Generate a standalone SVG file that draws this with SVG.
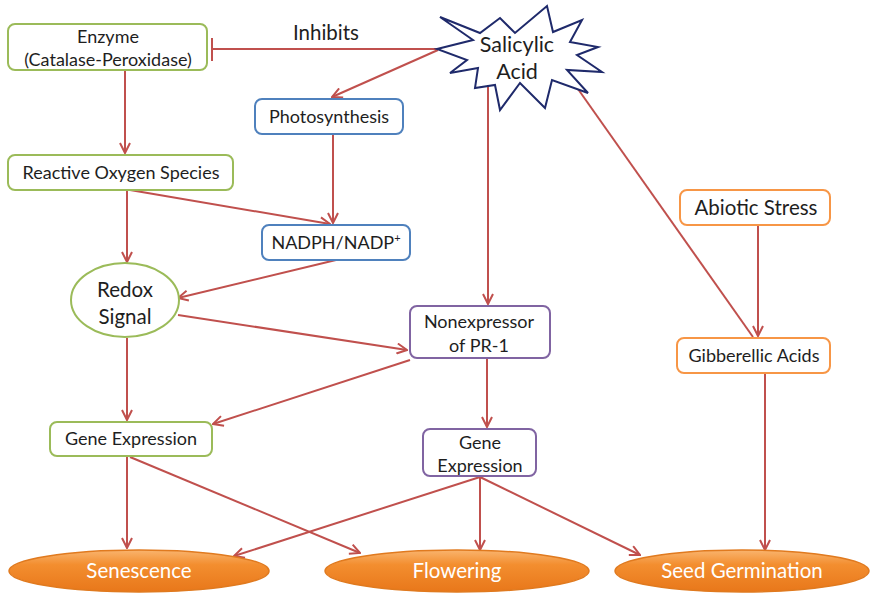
<svg xmlns="http://www.w3.org/2000/svg" width="870" height="593" viewBox="0 0 870 593">
  <defs>
    <style>
      text { font-family: Lato, "Open Sans", "Liberation Sans", sans-serif; fill: #1e1e1e; text-anchor: middle; }
      .lbl { font-size: 18px; }
      .big { font-size: 20.5px; }
      .sa { font-size: 21.5px; }
      .box { fill: #fff; stroke-width: 2; }
      .green { stroke: #9BBB59; }
      .blue { stroke: #4F81BD; }
      .purple { stroke: #8064A2; }
      .orange { stroke: #F79646; }
      .edge { fill: none; stroke: #C0504D; stroke-width: 2; }
      .arr { marker-end: url(#head); }
      .outcome { fill: url(#orangeFill); stroke: #E07A1F; stroke-width: 1.5; }
      .outtxt { fill: #fff; font-size: 20.5px; }
    </style>
    <marker id="head" viewBox="0 0 12 12" refX="11" refY="6" markerWidth="12" markerHeight="12" markerUnits="userSpaceOnUse" orient="auto">
      <path d="M1,1 L11,6 L1,11" fill="none" stroke="#C0504D" stroke-width="2"/>
    </marker>
    <linearGradient id="orangeFill" x1="0" y1="0" x2="0" y2="1">
      <stop offset="0" stop-color="#F9B46E"/>
      <stop offset="0.35" stop-color="#F38E2F"/>
      <stop offset="1" stop-color="#E8771A"/>
    </linearGradient>
  </defs>

  <!-- connectors -->
  <g id="connectors">
    <!-- inhibition: Salicylic Acid -| Enzyme -->
    <line class="edge" x1="438" y1="49" x2="213" y2="49"/>
    <line class="edge" x1="212" y1="38" x2="212" y2="61"/>
    <text class="big" x="326" y="40">Inhibits</text>

    <line class="edge arr" x1="438" y1="50" x2="332" y2="97"/>
    <line class="edge arr" x1="125" y1="71" x2="125" y2="153"/>
    <line class="edge arr" x1="333" y1="135" x2="333" y2="223"/>
    <line class="edge arr" x1="130" y1="190" x2="330" y2="224"/>
    <line class="edge arr" x1="127" y1="191" x2="127" y2="262"/>
    <line class="edge arr" x1="336" y1="260" x2="178" y2="298"/>
    <line class="edge arr" x1="178" y1="315" x2="407" y2="350"/>
    <line class="edge arr" x1="488" y1="84" x2="488" y2="304"/>
    <line class="edge arr" x1="127" y1="338" x2="127" y2="420"/>
    <line class="edge arr" x1="410" y1="360" x2="213" y2="424"/>
    <line class="edge arr" x1="487" y1="359" x2="487" y2="427"/>
    <line class="edge arr" x1="758" y1="225" x2="758" y2="336"/>
    <line class="edge" x1="753" y1="337" x2="566" y2="72"/>
    <line class="edge arr" x1="127" y1="457" x2="127" y2="548"/>
    <line class="edge arr" x1="130" y1="457" x2="360" y2="553"/>
    <line class="edge arr" x1="480" y1="477" x2="234" y2="556"/>
    <line class="edge arr" x1="480" y1="477" x2="480" y2="550"/>
    <line class="edge arr" x1="480" y1="477" x2="640" y2="555"/>
    <line class="edge arr" x1="765" y1="374" x2="765" y2="550"/>
  </g>

  <g id="enzyme">
    <rect class="box green" x="8" y="24" width="199" height="46" rx="7"/>
    <text class="lbl" x="108" y="43">Enzyme</text>
    <text class="lbl" x="108" y="66">(Catalase-Peroxidase)</text>
  </g>

  <g id="salicylic-acid">
    <polygon points="437,49 473,40 440,17 480,33 500,18 515,33 547,6 553,32 582,20 570,42 598,47 577,55 602,72 567,70 588,93 552,80 545,108 520,83 500,110 495,85 475,88 478,68 450,73 467,60" fill="#fff" stroke="#1F2A6B" stroke-width="2" stroke-linejoin="miter"/>
    <text class="sa" x="517" y="52">Salicylic</text>
    <text class="sa" x="517" y="79">Acid</text>
  </g>

  <g id="photosynthesis">
    <rect class="box blue" x="255" y="99" width="148" height="35" rx="7"/>
    <text class="lbl" x="329" y="123">Photosynthesis</text>
  </g>

  <g id="ros">
    <rect class="box green" x="8" y="155" width="225" height="35" rx="7"/>
    <text class="lbl" x="121" y="179">Reactive Oxygen Species</text>
  </g>

  <g id="nadph">
    <rect class="box blue" x="262" y="225" width="148" height="35" rx="7"/>
    <text class="lbl" x="336" y="249">NADPH/NADP<tspan font-size="11" dy="-7">+</tspan></text>
  </g>

  <g id="redox-signal">
    <ellipse cx="125" cy="300" rx="54" ry="37" fill="#fff" stroke="#9BBB59" stroke-width="2"/>
    <text class="big" x="125" y="297">Redox</text>
    <text class="big" x="125" y="324">Signal</text>
  </g>

  <g id="npr1">
    <rect class="box purple" x="410" y="306" width="140" height="52" rx="7"/>
    <text class="lbl" x="479" y="328">Nonexpressor</text>
    <text class="lbl" x="479" y="352">of PR-1</text>
  </g>

  <g id="gene-expression-left">
    <rect class="box green" x="50" y="422" width="162" height="34" rx="7"/>
    <text class="lbl" x="131" y="445">Gene Expression</text>
  </g>

  <g id="gene-expression-right">
    <rect class="box purple" x="423" y="429" width="113" height="47" rx="7"/>
    <text class="lbl" x="480" y="449">Gene</text>
    <text class="lbl" x="480" y="472">Expression</text>
  </g>

  <g id="abiotic-stress">
    <rect class="box orange" x="680" y="190" width="150" height="35" rx="7"/>
    <text class="big" x="756" y="215">Abiotic Stress</text>
  </g>

  <g id="gibberellic-acids">
    <rect class="box orange" x="677" y="338" width="153" height="35" rx="7"/>
    <text class="lbl" x="754" y="362">Gibberellic Acids</text>
  </g>

  <g id="senescence">
    <ellipse class="outcome" cx="139" cy="571" rx="130" ry="21"/>
    <text class="outtxt" x="139" y="578">Senescence</text>
  </g>

  <g id="flowering">
    <ellipse class="outcome" cx="457" cy="571" rx="132" ry="21"/>
    <text class="outtxt" x="457" y="578">Flowering</text>
  </g>

  <g id="seed-germination">
    <ellipse class="outcome" cx="742" cy="571" rx="127" ry="21"/>
    <text class="outtxt" x="742" y="578">Seed Germination</text>
  </g>
</svg>
